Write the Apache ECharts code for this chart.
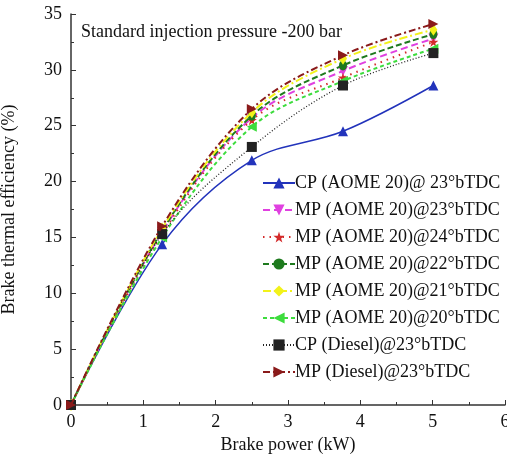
<!DOCTYPE html>
<html><head><meta charset="utf-8">
<script src="https://cdn.jsdelivr.net/npm/echarts@6/dist/echarts.min.js"></script>
<style>html,body{margin:0;padding:0;background:#fff}#c{width:507px;height:457px}</style>
</head><body><div id="c"></div>
<script>
const power = [0, 1.26, 2.5, 3.76, 5.01];
const names = [
  'CP (AOME 20)@ 23°bTDC',
  'MP (AOME 20)@23°bTDC',
  'MP (AOME 20)@24°bTDC',
  'MP (AOME 20)@22°bTDC',
  'MP (AOME 20)@21°bTDC',
  'MP (AOME 20)@20°bTDC',
  'CP (Diesel)@23°bTDC',
  'MP (Diesel)@23°bTDC'
];
const cpAome23 = [0, 14.4, 21.9, 24.5, 28.6];
const mpAome23 = [0, 15.5, 25.7, 29.9, 32.8];
const mpAome24 = [0, 15.3, 25.5, 29.3, 32.5];
const mpAome22 = [0, 15.6, 25.9, 30.4, 33.2];
const mpAome21 = [0, 15.8, 26.2, 31.0, 33.6];
const mpAome20 = [0, 15.0, 24.9, 29.0, 31.9];
const cpDiesel23 = [0, 15.3, 23.1, 28.6, 31.5];
const mpDiesel23 = [0, 16.0, 26.5, 31.3, 34.1];
const xTicks = [0,1,2,3,4,5,6];
const yTicks = [0,5,10,15,20,25,30,35];

const star = 'path://M50,0 L61,35 L98,35 L68,57 L79,91 L50,70 L21,91 L32,57 L2,35 L39,35 Z';
const seriesDefs = [
  {d: cpAome23, c: '#2233bb', t: 'solid', w: 1.5, s: 'triangle', r: 0},
  {d: mpAome23, c: '#e040e0', t: [7,4], w: 2, s: 'triangle', r: 180},
  {d: mpAome24, c: '#d42a2a', t: [1.5,5], w: 2, s: star, r: 0},
  {d: mpAome22, c: '#1e7a1e', t: [6,3], w: 2, s: 'circle', r: 0},
  {d: mpAome21, c: '#f2f21a', t: [8,3,2,3], w: 2, s: 'diamond', r: 0},
  {d: mpAome20, c: '#3ddc3d', t: [4,3], w: 2, s: 'triangle', r: 90},
  {d: cpDiesel23, c: '#222222', t: [1,2], w: 1.3, s: 'rect', r: 0},
  {d: mpDiesel23, c: '#8a1a1a', t: [7,3,2,3], w: 2, s: 'triangle', r: -90}
];
const font = 'Liberation Serif';
const chart = echarts.init(document.getElementById('c'));
chart.setOption({
  animation: false,
  backgroundColor: '#fff',
  grid: {left: 71, right: 2, top: 14, bottom: 52, containLabel: false, outerBoundsMode: 'none'},
  title: {text: 'Standard injection pressure -200 bar', left: 76, top: 18,
    textStyle: {fontFamily: font, fontSize: 18, fontWeight: 'normal', color: '#111'}},
  legend: {
    orient: 'vertical', left: 262, top: 172, itemGap: 9, itemWidth: 32, itemHeight: 14,
    data: names, backgroundColor: '#fff', padding: [2,0,2,0],
    textStyle: {fontFamily: font, fontSize: 18, color: '#111', padding: [0,0,0,-5]}
  },
  xAxis: {
    type: 'value', min: 0, max: 6, interval: 1,
    name: 'Brake power (kW)', nameLocation: 'middle', nameGap: 29,
    nameTextStyle: {fontFamily: font, fontSize: 18, color: '#111'},
    axisLine: {show: true, lineStyle: {color: '#333', width: 1.5}},
    axisTick: {show: true, inside: true, length: 5, lineStyle: {color: '#333'}},
    minorTick: {show: true, splitNumber: 2, length: 3, lineStyle: {color: '#333'}},
    axisLabel: {fontFamily: font, fontSize: 18, color: '#111', margin: 8,
      formatter: v => xTicks.includes(v) ? String(v) : ''},
    splitLine: {show: false}
  },
  yAxis: {
    type: 'value', min: 0, max: 35, interval: 5,
    name: 'Brake thermal efficiency (%)', nameLocation: 'middle', nameGap: 53, nameRotate: 90,
    nameTextStyle: {fontFamily: font, fontSize: 18, color: '#111'},
    axisLine: {show: true, lineStyle: {color: '#333', width: 1.5}},
    axisTick: {show: true, inside: true, length: 5, lineStyle: {color: '#333'}},
    minorTick: {show: true, splitNumber: 2, length: 3, lineStyle: {color: '#333'}},
    axisLabel: {fontFamily: font, fontSize: 18, color: '#111', margin: 9,
      formatter: v => yTicks.includes(v) ? String(v) : ''},
    splitLine: {show: false}
  },
  series: seriesDefs.map((s, i) => ({
    name: names[i], type: 'line', smooth: 0.35,
    data: power.map((x, j) => [x, s.d[j]]),
    symbol: s.s, symbolRotate: s.r, symbolSize: s.s === 'diamond' ? [8,12] : (s.s === 'circle' ? [8,10] : 10),
    showAllSymbol: true,
    lineStyle: {color: s.c, type: s.t, width: s.w},
    itemStyle: {color: s.c},
    z: 2 + i
  }))
});
</script></body></html>
